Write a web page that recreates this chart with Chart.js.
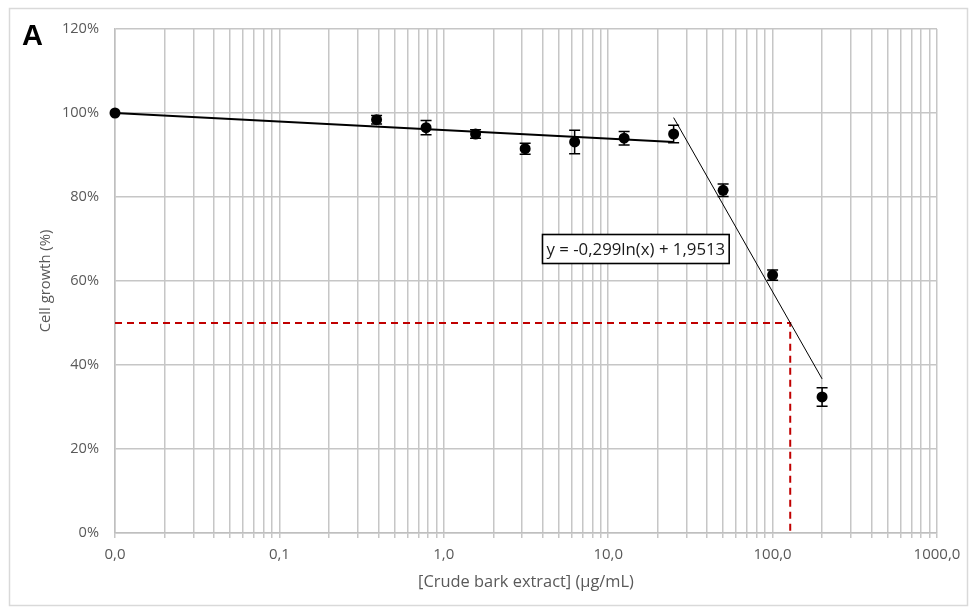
<!DOCTYPE html>
<html>
<head>
<meta charset="utf-8">
<script src="https://cdn.jsdelivr.net/npm/chart.js@4/dist/chart.umd.min.js"></script>
<style>
html,body{margin:0;padding:0;background:#fff;}
#wrap{width:971px;height:612px;position:relative;}
</style>
</head>
<body>
<div id="wrap"><canvas id="c" width="971" height="612"></canvas></div>
<script>
// ---- data ----
const concentrations = [0.01, 0.39, 0.78, 1.56, 3.125, 6.25, 12.5, 25, 50, 100, 200];
const cellGrowth     = [100, 98.4, 96.5, 95.0, 91.5, 93.1, 94.0, 95.0, 81.6, 61.4, 32.4];
const errorValues    = [0, 1.0, 1.7, 1.0, 1.3, 2.8, 1.6, 2.1, 1.5, 1.2, 2.2];

const trendLowX  = [0.01, 25];
const trendLowY  = [100, 93.1];
const trendHighX = [25, 200];
const trendHighY = [98.9, 36.7];

const ic50X = [0.01, 128, 128];
const ic50Y = [50, 50, 0];

const xTickValues = [0.01, 0.1, 1, 10, 100, 1000];
const xTickLabels = ['0,0', '0,1', '1,0', '10,0', '100,0', '1000,0'];
const yTickValues = [0, 20, 40, 60, 80, 100, 120];
const yTickLabels = ['0%', '20%', '40%', '60%', '80%', '100%', '120%'];

const equationText = 'y = -0,299ln(x) + 1,9513';
const panelLabel = 'A';
const xTitle = '[Crude bark extract] (\u00b5g/mL)';
const yTitle = 'Cell growth (%)';

// ---- helpers ----
const toPts = (xs, ys) => xs.map((x, i) => ({x: x, y: ys[i]}));
const gridValues = [];
for (let e = -2; e <= 2; e++) {
  for (let m = 1; m <= 9; m++) gridValues.push(Number((m * Math.pow(10, e)).toPrecision(4)));
}
gridValues.push(1000);

const FONT = "'Open Sans', 'Liberation Sans', sans-serif";
const GRAY_TEXT = '#595959';
const GRID = '#c6c6c6';

const frame = {
  id: 'frame',
  beforeDraw(chart) {
    const c = chart.ctx;
    c.save();
    c.fillStyle = '#fff';
    c.fillRect(0, 0, chart.width, chart.height);
    c.strokeStyle = '#d9d9d9';
    c.lineWidth = 1.5;
    c.strokeRect(9.5, 8.5, 958, 597);
    c.restore();
  }
};

const errorBars = {
  id: 'errorBars',
  afterDatasetsDraw(chart) {
    const c = chart.ctx, xs = chart.scales.x, ys = chart.scales.y;
    c.save();
    c.strokeStyle = '#000';
    c.lineWidth = 1.5;
    concentrations.forEach((xv, i) => {
      const e = errorValues[i];
      if (!e) return;
      const px = xs.getPixelForValue(xv);
      const top = ys.getPixelForValue(cellGrowth[i] + e);
      const bot = ys.getPixelForValue(cellGrowth[i] - e);
      c.beginPath();
      c.moveTo(px, top); c.lineTo(px, bot);
      c.moveTo(px - 5.5, top); c.lineTo(px + 5.5, top);
      c.moveTo(px - 5.5, bot); c.lineTo(px + 5.5, bot);
      c.stroke();
    });
    c.restore();
  }
};

const annotations = {
  id: 'annotations',
  afterDraw(chart, args, opts) {
    const c = chart.ctx, xs = chart.scales.x, ys = chart.scales.y;
    c.save();
    // panel letter
    c.fillStyle = '#000';
    c.font = "bold 29px 'Liberation Sans', Arial, sans-serif";
    c.textBaseline = 'alphabetic';
    c.textAlign = 'left';
    c.fillText(panelLabel, 22, 45);
    // equation box
    const bx = Math.round(xs.getPixelForValue(opts.eqX)) + 0.5;
    const by = Math.round(ys.getPixelForValue(opts.eqY)) + 0.5;
    c.font = "16.8px " + FONT;
    const tw = c.measureText(equationText).width;
    const bw = tw + 8, bh = 29;
    c.fillStyle = '#fff';
    c.fillRect(bx, by, bw, bh);
    c.strokeStyle = '#000';
    c.lineWidth = 1.6;
    c.strokeRect(bx, by, bw, bh);
    c.fillStyle = '#1a1a1a';
    c.textBaseline = 'middle';
    c.fillText(equationText, bx + 4, by + bh / 2 + 1);
    c.restore();
  }
};

new Chart(document.getElementById('c'), {
  type: 'scatter',
  data: {
    datasets: [
      {
        data: toPts(concentrations, cellGrowth),
        backgroundColor: '#000', borderColor: '#000',
        pointRadius: 5.5, pointHoverRadius: 5.5, pointBorderWidth: 0,
        clip: false
      },
      {
        type: 'line', data: toPts(trendHighX, trendHighY),
        borderColor: '#000', borderWidth: 1, pointRadius: 0, fill: false, tension: 0
      },
      {
        type: 'line', data: toPts(trendLowX, trendLowY),
        borderColor: '#000', borderWidth: 2, pointRadius: 0, fill: false, tension: 0
      },
      {
        type: 'line', data: toPts(ic50X, ic50Y),
        borderColor: '#c00000', borderWidth: 2, borderDash: [7, 5],
        pointRadius: 0, fill: false, tension: 0
      }
    ]
  },
  options: {
    responsive: false,
    animation: false,
    events: [],
    layout: {padding: {top: 29, right: 34, bottom: 0, left: 0}},
    plugins: {
      legend: {display: false},
      tooltip: {enabled: false},
      annotations: {eqX: 3.95, eqY: 71.2}
    },
    scales: {
      x: {
        type: 'logarithmic', min: 0.01, max: 1000,
        afterBuildTicks: s => { s.ticks = gridValues.map(v => ({value: v})); },
        afterFit: s => { s.height = 79; },
        ticks: {
          autoSkip: false, maxRotation: 0, minRotation: 0,
          color: GRAY_TEXT, font: {family: FONT, size: 15}, padding: 8,
          callback: v => {
            const i = xTickValues.findIndex(t => Math.abs(t - v) / t < 1e-6);
            return i >= 0 ? xTickLabels[i] : '';
          }
        },
        grid: {color: GRID, lineWidth: 1.5, tickLength: 5, drawTicks: true},
        border: {color: '#bfbfbf', width: 1.5},
        title: {display: true, text: xTitle, color: GRAY_TEXT,
                font: {family: FONT, size: 16.4}, padding: {top: 0, bottom: 20}}
      },
      y: {
        min: 0, max: 120,
        afterBuildTicks: s => { s.ticks = yTickValues.map(v => ({value: v})); },
        afterFit: s => { s.width = 115; },
        ticks: {
          color: GRAY_TEXT, font: {family: FONT, size: 14.6}, padding: 16,
          callback: v => yTickLabels[yTickValues.indexOf(v)]
        },
        grid: {color: GRID, lineWidth: 1.5, drawTicks: false},
        border: {color: '#bfbfbf', width: 1.5},
        title: {display: true, text: yTitle, color: GRAY_TEXT,
                font: {family: FONT, size: 14.8}, padding: {top: 37, bottom: 0}}
      }
    }
  },
  plugins: [frame, errorBars, annotations]
});
</script>
</body>
</html>
